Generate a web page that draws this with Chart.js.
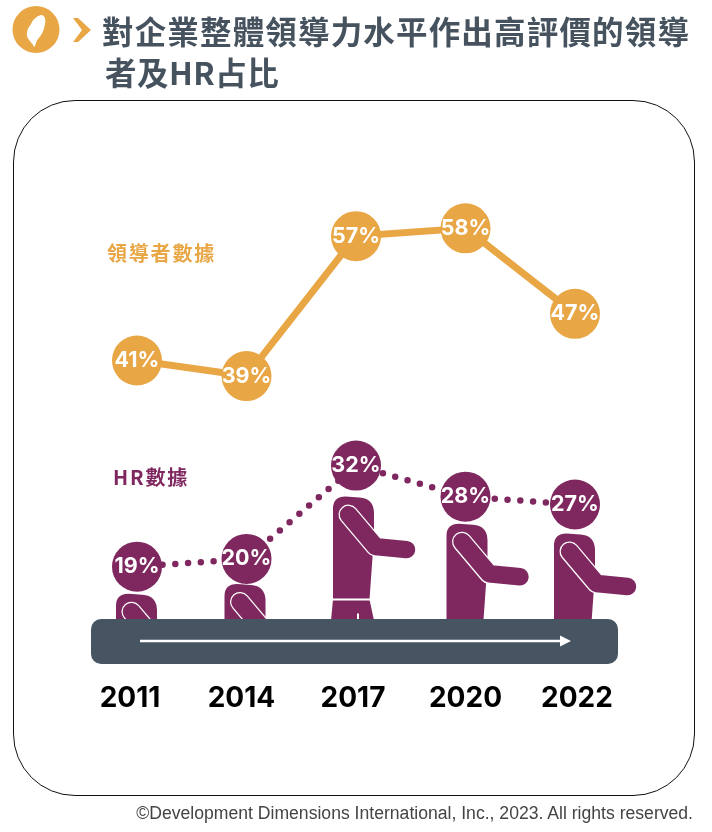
<!DOCTYPE html>
<html>
<head>
<meta charset="utf-8">
<script src="https://cdn.jsdelivr.net/npm/chart.js@4"></script>
<style>
  body { margin: 0; background: #fff; width: 712px; height: 832px; position: relative; overflow: hidden; }
  #chart { position: absolute; left: 0; top: 0; }
  #frame { position: absolute; left: 13px; top: 100px; width: 682px; height: 696px; border: 1px solid #111; border-radius: 62px; box-sizing: border-box; }
  #icon { position: absolute; left: 0; top: 0; }
  .title { position: absolute; margin: 0; font: 700 31.5px "Noto Sans CJK TC"; color: #46535f; letter-spacing: 1.17px; white-space: nowrap; line-height: 42px; }
  .series { position: absolute; font: 700 20px "Noto Sans CJK TC"; letter-spacing: 1.8px; white-space: nowrap; line-height: 26px; }
  #source { position: absolute; right: 19px; top: 803px; font: 17.6px "Liberation Sans"; color: #444; white-space: nowrap; }
</style>
</head>
<body>
<div id="frame"></div>
<canvas id="chart" width="712" height="832"></canvas>
<svg id="icon" width="100" height="60">
  <ellipse cx="36" cy="29.5" rx="23.5" ry="23.5" fill="#e8a644"/>
  <path d="M42 15 C38 15 33 19 31 24 C28 28 26 32 27 36 C28 40 32 42 34 47 C36 46 35 43 38 39 C42 35 44 30 45 24 C46 20 45 16 42 15Z" fill="#fff"/>
  <path d="M73 18 L78 18 L91 30 L78 42 L73 42 L82 30Z" fill="#e8a644"/>
</svg>
<h1 class="title" style="left:102px;top:9px">對企業整體領導力水平作出高評價的領導</h1>
<h1 class="title" style="left:105px;top:50px;letter-spacing:.5px">者及HR占比</h1>
<div class="series" style="left:107px;top:240px;color:#e8a644">領導者數據</div>
<div class="series" style="left:113px;top:464px;color:#7f2860">HR數據</div>
<div id="source">©Development Dimensions International, Inc., 2023. All rights reserved.</div>
<script>
const years = ['2011', '2014', '2017', '2020', '2022'];
const leaderValues = [41, 39, 57, 58, 47];
const hrValues = [19, 20, 32, 28, 27];

const orange = '#e8a644';
const purple = '#7f2860';
const slate = '#475563';

// small per-figure nudges, the people aren't quite centred under their heads
const figureDx = [-0.5, -1.5, -2.5, 1.5, -0.5];
const figureDy = [27, 25, 31, 27, 29];
// year labels are spread a little wider than the points above them
const yearDx = [-7, -5, -3, 0, 2];

function drawPerson(ctx, x, y, i) {
    const cx = x + figureDx[i];
    const ty = y + figureDy[i];

    ctx.fillStyle = purple;
    ctx.beginPath();
    ctx.moveTo(cx - 20.5, ty + 12);
    ctx.quadraticCurveTo(cx - 20.5, ty, cx - 8, ty);
    ctx.lineTo(cx + 6, ty + 1);
    ctx.quadraticCurveTo(cx + 20, ty + 2, cx + 20.5, ty + 16);
    ctx.lineTo(cx + 20.5, ty + 40);
    ctx.lineTo(cx + 16, ty + 103);
    ctx.lineTo(cx + 24, ty + 140);
    ctx.lineTo(cx - 24, ty + 140);
    ctx.lineTo(cx - 20.5, ty + 103);
    ctx.closePath();
    ctx.fill();

    // arm, white stroke first so it leaves the thin outline on the body
    ctx.lineCap = 'round';
    ctx.lineJoin = 'round';
    ctx.setLineDash([]);
    [['#fff', 20], [purple, 17.5]].forEach(([color, width]) => {
        ctx.strokeStyle = color;
        ctx.lineWidth = width;
        ctx.beginPath();
        ctx.moveTo(cx - 5, ty + 18);
        ctx.lineTo(cx + 22, ty + 50);
        ctx.lineTo(cx + 53, ty + 53);
        ctx.stroke();
    });

    // waist and gap between the legs
    ctx.strokeStyle = '#fff';
    ctx.lineWidth = 2;
    ctx.lineCap = 'butt';
    ctx.beginPath();
    ctx.moveTo(cx - 24, ty + 103);
    ctx.lineTo(cx + 24, ty + 103);
    ctx.moveTo(cx + 4.5, ty + 117);
    ctx.lineTo(cx + 4.5, ty + 140);
    ctx.stroke();
}

const peoplePlugin = {
    id: 'people',
    beforeDatasetsDraw(chart) {
        const ctx = chart.ctx;
        ctx.save();
        // legs stop at the belt
        ctx.save();
        ctx.beginPath();
        ctx.rect(0, 0, chart.width, 620);
        ctx.clip();
        chart.getDatasetMeta(1).data.forEach((pt, i) => drawPerson(ctx, pt.x, pt.y, i));
        ctx.restore();

        // conveyor belt
        ctx.fillStyle = slate;
        ctx.beginPath();
        ctx.roundRect(91, 619, 527, 45, 10);
        ctx.fill();

        ctx.strokeStyle = '#fff';
        ctx.lineWidth = 2.5;
        ctx.beginPath();
        ctx.moveTo(140, 641);
        ctx.lineTo(562, 641);
        ctx.stroke();
        ctx.fillStyle = '#fff';
        ctx.beginPath();
        ctx.moveTo(560, 635.5);
        ctx.lineTo(571, 641);
        ctx.lineTo(560, 646.5);
        ctx.closePath();
        ctx.fill();

        // year labels under the belt
        ctx.fillStyle = '#000';
        ctx.font = '700 28px Inter';
        ctx.textAlign = 'center';
        ctx.textBaseline = 'middle';
        const xScale = chart.scales.x;
        years.forEach((year, i) => {
            ctx.fillText(year, xScale.getPixelForValue(i) + yearDx[i], 699);
        });
        ctx.restore();
    },
    afterDatasetsDraw(chart) {
        const ctx = chart.ctx;
        ctx.save();
        ctx.fillStyle = '#fff';
        ctx.font = '700 21.5px Inter';
        ctx.textAlign = 'center';
        ctx.textBaseline = 'middle';
        chart.data.datasets.forEach((ds, d) => {
            chart.getDatasetMeta(d).data.forEach((pt, i) => {
                ctx.fillText(ds.data[i] + '%', pt.x, pt.y);
            });
        });
        ctx.restore();
    }
};

new Chart(document.getElementById('chart'), {
    type: 'line',
    data: {
        labels: years,
        datasets: [{
            label: '領導者數據',
            data: leaderValues,
            yAxisID: 'y',
            borderColor: orange,
            backgroundColor: orange,
            borderWidth: 7,
            tension: 0,
            pointRadius: 25,
            pointBackgroundColor: orange,
            pointBorderWidth: 0
        }, {
            label: 'HR數據',
            data: hrValues,
            yAxisID: 'y2',
            borderColor: purple,
            backgroundColor: purple,
            borderWidth: 6.5,
            borderDash: [0, 12.8],
            borderCapStyle: 'round',
            tension: 0,
            pointRadius: 25,
            pointBackgroundColor: purple,
            pointBorderWidth: 0
        }]
    },
    plugins: [peoplePlugin],
    options: {
        responsive: false,
        animation: false,
        layout: { padding: { left: 137, right: 137, top: 0, bottom: 152 } },
        plugins: { legend: { display: false }, tooltip: { enabled: false } },
        scales: {
            x: {
                offset: false,
                grid: { display: false },
                border: { display: false },
                ticks: { display: false }
            },
            y: { display: false, min: 0.93, max: 84.16 },
            y2: { display: false, min: 5.45, max: 88.68 }
        }
    }
});
</script>
</body>
</html>
